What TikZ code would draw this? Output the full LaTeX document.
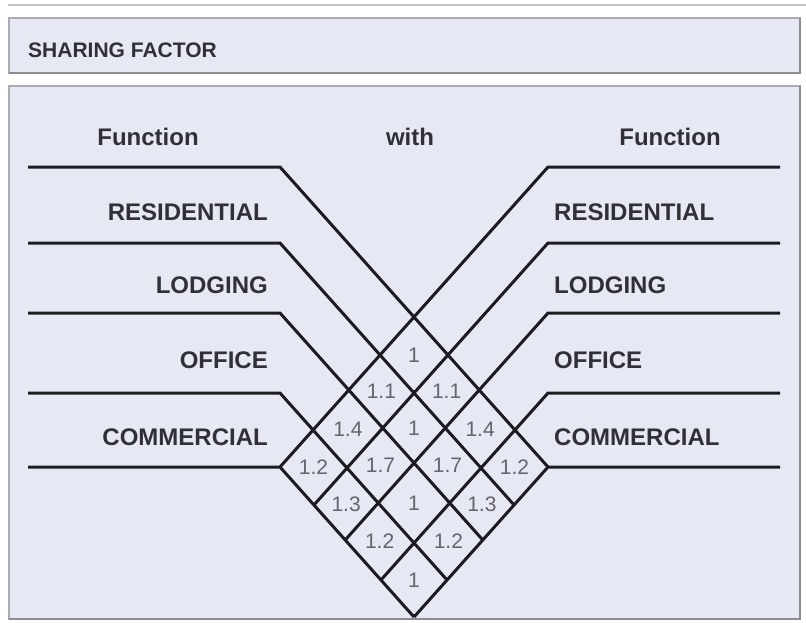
\documentclass[tikz,border=0pt]{standalone}
\usepackage{fontspec}
\setmainfont{Liberation Sans}
\usetikzlibrary{positioning}
\definecolor{panelfill}{RGB}{230,232,244}
\definecolor{panelline}{RGB}{170,170,176}
\definecolor{panelshade}{RGB}{140,140,146}
\definecolor{lineink}{RGB}{28,28,32}
\definecolor{labelink}{RGB}{48,48,54}
\definecolor{factorink}{RGB}{100,100,108}

\begin{document}
\begin{tikzpicture}[x=1pt, y=-1pt,
  panel/.style={draw=panelline, line width=2pt, fill=panelfill},
  shade/.style={draw=panelshade, line width=2pt},
  fline/.style={draw=lineink, line width=3pt, line join=miter},
  func/.style={font=\fontsize{24}{28}\selectfont\bfseries, text=labelink, inner sep=0pt},
  factor/.style={font=\fontsize{21}{24}\selectfont, text=factorink, inner sep=0pt}
]
\useasboundingbox (0,0) rectangle (806,622);
\draw[panelline!70, line width=1.5pt] (8,5) -- (806,5);
\draw[panel] (9,18) rectangle (800,73);
\draw[shade] (9,73) -- (800,73) -- (800,18);
\draw[panel] (9,86) rectangle (800,619);
\draw[shade] (9,619) -- (800,619) -- (800,86);
\node[func, anchor=west, font=\fontsize{21}{24}\selectfont\bfseries] (title) at (28,50) {SHARING FACTOR};

% column heads
\node[func] (headl) at (148,137) {Function};
\node[func] (with) at (410,137) {with};
\node[func] (headr) at (670,137) {Function};

% function lines, left and right
\foreach \y in {167,243,313,393,467} {
  \pgfmathsetmacro{\dx}{134+(467-\y)*0.44667}
  \draw[fline] (28,\y) -- (280,\y) -- ++({\dx},{\dx*1.1194});
  \draw[fline] (780,\y) -- (548,\y) -- ++({-\dx},{\dx*1.1194});
}

% function names
\def\mlist{{205,278,353,430}}
\foreach \name [count=\i] in {RESIDENTIAL,LODGING,OFFICE,COMMERCIAL} {
  \pgfmathsetmacro{\mi}{\mlist[\i-1]+7}
  \node[func, anchor=east] (fl\i) at (268,\mi) {\name};
  \node[func, anchor=west] (fr\i) at (554,\mi) {\name};
}

% sharing factors
\foreach \i/\j/\v in {1/1/1, 2/1/1.1, 1/2/1.1, 3/1/1.4, 2/2/1, 1/3/1.4,
    4/1/1.2, 3/2/1.7, 2/3/1.7, 1/4/1.2, 4/2/1.3, 3/3/1, 2/4/1.3,
    4/3/1.2, 3/4/1.2, 4/4/1} {
  \pgfmathsetmacro{\mi}{\mlist[\i-1]}
  \pgfmathsetmacro{\mj}{\mlist[\j-1]}
  \node[factor] (c\i\j) at ({414+(\mj-\mi)*0.44667},{(\mi+\mj)/2+150}) {\v};
}
\end{tikzpicture}
\end{document}
